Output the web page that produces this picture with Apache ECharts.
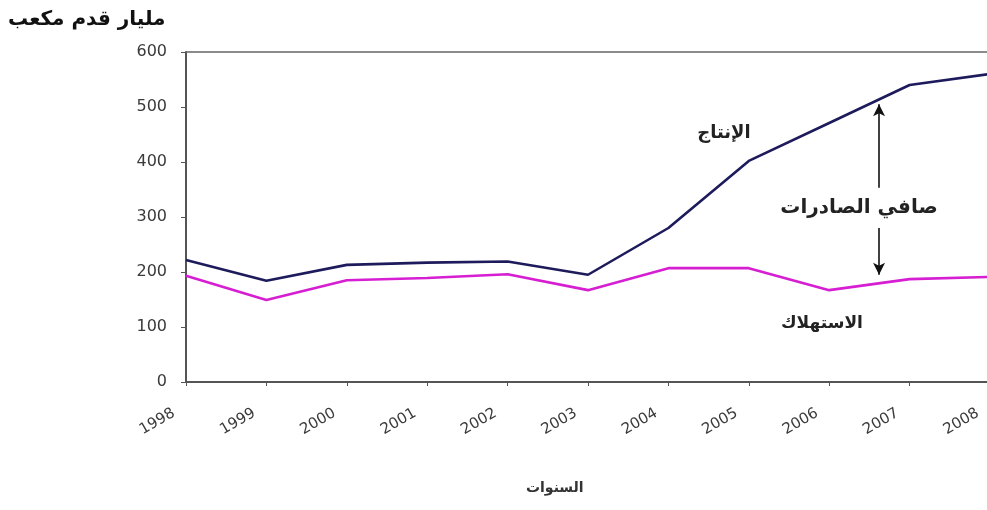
<!DOCTYPE html>
<html>
<head>
<meta charset="utf-8">
<script src="https://cdn.jsdelivr.net/npm/echarts@6/dist/echarts.min.js"></script>
<style>
  html, body { margin: 0; padding: 0; background: #fff; }
  #chart { width: 987px; height: 510px; }
</style>
</head>
<body>
<div id="chart"></div>
<script>
// Years on the horizontal axis
const years = [1998, 1999, 2000, 2001, 2002, 2003, 2004, 2005, 2006, 2007, 2008];
// Natural gas production and consumption (billion cubic feet)
const production = [222, 184, 213, 217, 219, 195, 280, 402, 471, 540, 560];
const consumption = [193, 149, 185, 189, 196, 167, 207, 207, 167, 187, 191];
// Y-axis ticks
const yTicks = [0, 100, 200, 300, 400, 500, 600];

// Net-exports arrow: position on the year scale and the value ends of each segment
const arrowYear = [2006.62];
const arrowUpper = [353, 505];
const arrowLower = [280, 195];
const arrowLabelValue = [316];

// Series name labels, placed in data coordinates
const productionLabelAt = [2004.69, 453];
const consumptionLabelAt = [2005.91, 107];

const arabicFont = '"DejaVu Sans", sans-serif';
const numberFont = '"DejaVu Sans", sans-serif';

const chart = echarts.init(document.getElementById('chart'), null, { renderer: 'canvas' });

chart.setOption({
  animation: false,
  backgroundColor: '#ffffff',
  grid: {
    left: 186, right: -3, top: 52, bottom: 128,
    containLabel: false,
    outerBoundsMode: 'none'
  },
  graphic: [
    {
      type: 'text',
      left: 8, top: 10,
      style: {
        text: 'مليار قدم مكعب',
        font: 'bold 20px ' + arabicFont,
        fill: '#111'
      }
    },
    {
      type: 'text',
      left: 526, top: 481,
      style: {
        text: 'السنوات',
        font: 'bold 14px ' + arabicFont,
        fill: '#333'
      }
    }
  ],
  xAxis: [
    {
      type: 'value',
      min: years[0],
      max: years[years.length - 1],
      interval: 1,
      axisLine: { show: true, onZero: false, lineStyle: { color: '#555', width: 2 } },
      axisTick: { show: true, length: 4, lineStyle: { color: '#555' } },
      splitLine: { show: false },
      axisLabel: {
        rotate: 30,
        margin: 23,
        padding: [0, 14, 0, 0],
        color: '#3a3a3a',
        fontSize: 15,
        fontFamily: numberFont,
        formatter: v => String(v)
      }
    },
    {
      type: 'value',
      position: 'top',
      min: years[0],
      max: years[years.length - 1],
      axisLine: { show: true, onZero: false, lineStyle: { color: '#666', width: 1.5 } },
      axisTick: { show: false },
      axisLabel: { show: false },
      splitLine: { show: false }
    }
  ],
  yAxis: {
    type: 'value',
    min: yTicks[0],
    max: yTicks[yTicks.length - 1],
    interval: yTicks[1] - yTicks[0],
    axisLine: { show: true, lineStyle: { color: '#555', width: 2 } },
    axisTick: { show: true, length: 5, lineStyle: { color: '#555' } },
    splitLine: { show: false },
    axisLabel: {
      color: '#3a3a3a',
      fontSize: 16,
      fontFamily: numberFont,
      margin: 19
    }
  },
  series: [
    {
      name: 'الإنتاج',
      type: 'line',
      data: years.map((y, i) => [y, production[i]]),
      symbol: 'none',
      lineStyle: { color: '#1e1b5c', width: 2.6 },
      itemStyle: { color: '#1e1b5c' },
      z: 3,
      markPoint: {
        silent: true,
        symbol: 'circle',
        symbolSize: 0,
        data: [
          {
            coord: productionLabelAt,
            label: {
              show: true,
              position: 'inside',
              formatter: 'الإنتاج',
              color: '#222',
              fontSize: 18,
              fontWeight: 'bold',
              fontFamily: arabicFont
            }
          },
          {
            coord: [arrowYear[0], arrowLabelValue[0]],
            label: {
              show: true,
              position: 'inside',
              offset: [-20, 0],
              formatter: 'صافي الصادرات',
              color: '#222',
              fontSize: 20,
              fontWeight: 'bold',
              fontFamily: arabicFont
            }
          }
        ]
      },
      markLine: {
        silent: true,
        symbol: ['none', 'arrow'],
        symbolSize: [9, 12],
        label: { show: false },
        lineStyle: { color: '#111', width: 1.6, type: 'solid' },
        data: [
          [
            { coord: [arrowYear[0], arrowUpper[0]] },
            { coord: [arrowYear[0], arrowUpper[1]] }
          ],
          [
            { coord: [arrowYear[0], arrowLower[0]] },
            { coord: [arrowYear[0], arrowLower[1]] }
          ]
        ]
      }
    },
    {
      name: 'الاستهلاك',
      type: 'line',
      data: years.map((y, i) => [y, consumption[i]]),
      symbol: 'none',
      lineStyle: { color: '#d61ed2', width: 2.6 },
      itemStyle: { color: '#d61ed2' },
      z: 2,
      markPoint: {
        silent: true,
        symbol: 'circle',
        symbolSize: 0,
        data: [
          {
            coord: consumptionLabelAt,
            label: {
              show: true,
              position: 'inside',
              formatter: 'الاستهلاك',
              color: '#222',
              fontSize: 17,
              fontWeight: 'bold',
              fontFamily: arabicFont
            }
          }
        ]
      }
    }
  ]
});
</script>
</body>
</html>
